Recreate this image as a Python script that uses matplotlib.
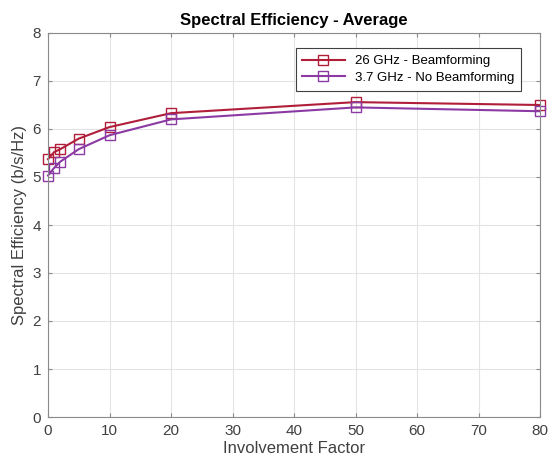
import matplotlib
matplotlib.use('Agg')
import matplotlib.pyplot as plt

plt.rcParams['font.family'] = ['Liberation Sans', 'DejaVu Sans']

# Data
involvement = [0, 1, 2, 5, 10, 20, 50, 80]
se_26ghz = [5.37, 5.52, 5.58, 5.80, 6.04, 6.33, 6.56, 6.50]
se_37ghz = [5.03, 5.19, 5.32, 5.58, 5.87, 6.20, 6.45, 6.37]
series_labels = ['26 GHz - Beamforming', '3.7 GHz - No Beamforming']

fig = plt.figure(figsize=(5.51, 4.65), dpi=100)
ax = fig.add_axes([48 / 551, 48 / 465, 492 / 551, 384 / 465])

ax.plot(involvement, se_26ghz, color='#B01E3A', marker='s', markersize=6.5,
        markerfacecolor='none', linewidth=1.5, label=series_labels[0], clip_on=False)
ax.plot(involvement, se_37ghz, color='#8C3AA3', marker='s', markersize=6.5,
        markerfacecolor='none', linewidth=1.5, label=series_labels[1], clip_on=False)

ax.set_xlim(0, 80)
ax.set_ylim(0, 8)
ax.set_xticks(range(0, 81, 10))
ax.set_yticks(range(0, 9))
ax.grid(True, color='#e3e3e3', linewidth=0.8)
ax.set_axisbelow(True)

for s in ax.spines.values():
    s.set_color('#8a8a8a')
    s.set_linewidth(0.8)
ax.tick_params(direction='in', color='#8a8a8a', labelcolor='#404040',
               labelsize=11, length=3, pad=5, top=True, right=True)

ax.set_title('Spectral Efficiency - Average', fontsize=12, fontweight='bold', pad=6)
ax.set_xlabel('Involvement Factor', fontsize=12, color='#404040', labelpad=2)
ax.set_ylabel('Spectral Efficiency (b/s/Hz)', fontsize=12, color='#404040', labelpad=4)

leg = ax.legend(loc='upper right', bbox_to_anchor=(0.975, 0.977), fontsize=9.5,
                fancybox=False, framealpha=1, edgecolor='#404040',
                handlelength=3.2, borderpad=0.5, labelspacing=0.35)
leg.get_frame().set_linewidth(0.8)

fig.savefig('out.png', dpi=100)
